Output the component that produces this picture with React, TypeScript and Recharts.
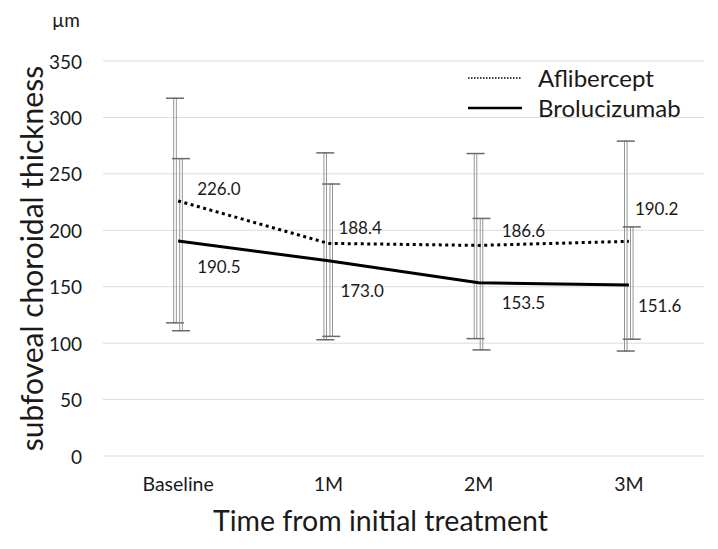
import React from 'react';
import {
  ComposedChart, Line, Bar, XAxis, YAxis, CartesianGrid, Label,
} from 'recharts';

const categories = ['Baseline', '1M', '2M', '3M'];
const afliMean = [226.0, 188.4, 186.6, 190.2];
const afliLow = [118, 103, 104, 93];
const afliHigh = [317, 268.6, 268, 279];
const broMean = [190.5, 173.0, 153.5, 151.6];
const broLow = [111, 106, 94, 103.5];
const broHigh = [263.5, 241, 210.5, 203];
const yTicks = [0, 50, 100, 150, 200, 250, 300, 350];
const seriesNames = ['Aflibercept', 'Brolucizumab'];

const data = categories.map((c, i) => ({
  cat: c,
  afli: afliMean[i],
  bro: broMean[i],
  afliRange: [afliLow[i], afliHigh[i]],
  broRange: [broLow[i], broHigh[i]],
}));

const FONT = 'Lato, "Noto Sans", sans-serif';
const TEXT = '#1a1a1a';

// label placement (style only)
const afliLabelOffset = [[19, -12], [10, -16], [23, -15], [6, -33]];
const broLabelOffset = [[19, 25], [12, 30], [23, 20], [9, 21]];

const makeLabel = (offsets: number[][]) => (props: any) => {
  const { x, y, index, value } = props;
  const o = offsets[index] || [0, 0];
  return (
    <text x={x + o[0]} y={y + o[1]} dominantBaseline="central" fontSize={17}
      fontFamily={FONT} fill={TEXT}>
      {Number(value).toFixed(1)}
    </text>
  );
};

const XTick = (props: any) => {
  const { x, y, payload } = props;
  return (
    <text x={x} y={y} dy={10} textAnchor="middle" dominantBaseline="central"
      fontSize={19.5} fontFamily={FONT} fill={TEXT}>{payload.value}</text>
  );
};

const YTick = (props: any) => {
  const { x, y, payload } = props;
  return (
    <text x={x} y={y} textAnchor="end" dominantBaseline="central"
      fontSize={19} fontFamily={FONT} fill={TEXT}>{payload.value}</text>
  );
};

const ErrorShape = (props: any) => {
  const { x, y, width, height } = props;
  if (x == null || y == null) return null;
  const cx = x + width / 2;
  const top = y;
  const bot = y + height;
  return (
    <g>
      <rect x={cx - 1.3} y={top} width={2.6} height={bot - top} fill="none"
        stroke="#8a8a8a" strokeWidth={0.9} />
      <line x1={cx - 9} x2={cx + 9} y1={top} y2={top} stroke="#6a6a6a" strokeWidth={1.5} />
      <line x1={cx - 9} x2={cx + 9} y1={bot} y2={bot} stroke="#6a6a6a" strokeWidth={1.5} />
    </g>
  );
};

export default function App() {
  return (
    <div style={{ position: 'absolute', left: 0, top: 0, width: 718, height: 549, background: '#fff' }}>
      <ComposedChart width={718} height={549} data={data}
        margin={{ top: 61, right: 14, left: 0, bottom: 0 }} barGap={0}>
        <CartesianGrid vertical={false} stroke="#dcdcdc" />
        <XAxis dataKey="cat" axisLine={false} tickLine={false} tickSize={0} tickMargin={17}
          height={93} tick={<XTick />}>
          <Label content={(p: any) => {
            const vb = p.viewBox;
            return (
              <text x={vb.x + vb.width / 2 - 23} y={vb.y + vb.height - 18} textAnchor="middle"
                fontSize={28.5} fontFamily={FONT} fill={TEXT}>Time from initial treatment</text>
            );
          }} />
        </XAxis>
        <YAxis domain={[0, 350]} ticks={yTicks} axisLine={false} tickLine={false}
          tickSize={0} tickMargin={21} width={103} interval={0} tick={<YTick />}>
          <Label content={(p: any) => {
            const vb = p.viewBox;
            const cx = 31;
            const cy = vb.y + vb.height / 2;
            return (
              <g>
                <text x={cx} y={cy} transform={`rotate(-90 ${cx} ${cy})`} textAnchor="middle"
                  dominantBaseline="central" fontSize={30} fontFamily={FONT} fill={TEXT}>
                  subfoveal choroidal thickness
                </text>
                <text x={52} y={27} fontSize={19} fontFamily={FONT} fill={TEXT}>µm</text>
                <g fontFamily={FONT} fontSize={24} fill={TEXT}>
                  <line x1={468} x2={522} y1={78} y2={78} stroke="#000" strokeWidth={1.5} strokeDasharray="1.5 1.5" />
                  <text x={538} y={77} dominantBaseline="central">{seriesNames[0]}</text>
                  <line x1={468} x2={522} y1={108} y2={108} stroke="#000" strokeWidth={2.5} />
                  <text x={538} y={107} dominantBaseline="central">{seriesNames[1]}</text>
                </g>
              </g>
            );
          }} />
        </YAxis>
        <Bar dataKey="afliRange" barSize={6} shape={ErrorShape} isAnimationActive={false} legendType="none" />
        <Bar dataKey="broRange" barSize={6} shape={ErrorShape} isAnimationActive={false} legendType="none" />
        <Line type="linear" dataKey="afli" name={seriesNames[0]} stroke="#000" strokeWidth={3} strokeDasharray="3 3.5"
          dot={false} activeDot={false} isAnimationActive={false}
          label={makeLabel(afliLabelOffset)} />
        <Line type="linear" dataKey="bro" name={seriesNames[1]} stroke="#000" strokeWidth={3}
          dot={false} activeDot={false} isAnimationActive={false}
          label={makeLabel(broLabelOffset)} />
      </ComposedChart>
    </div>
  );
}
